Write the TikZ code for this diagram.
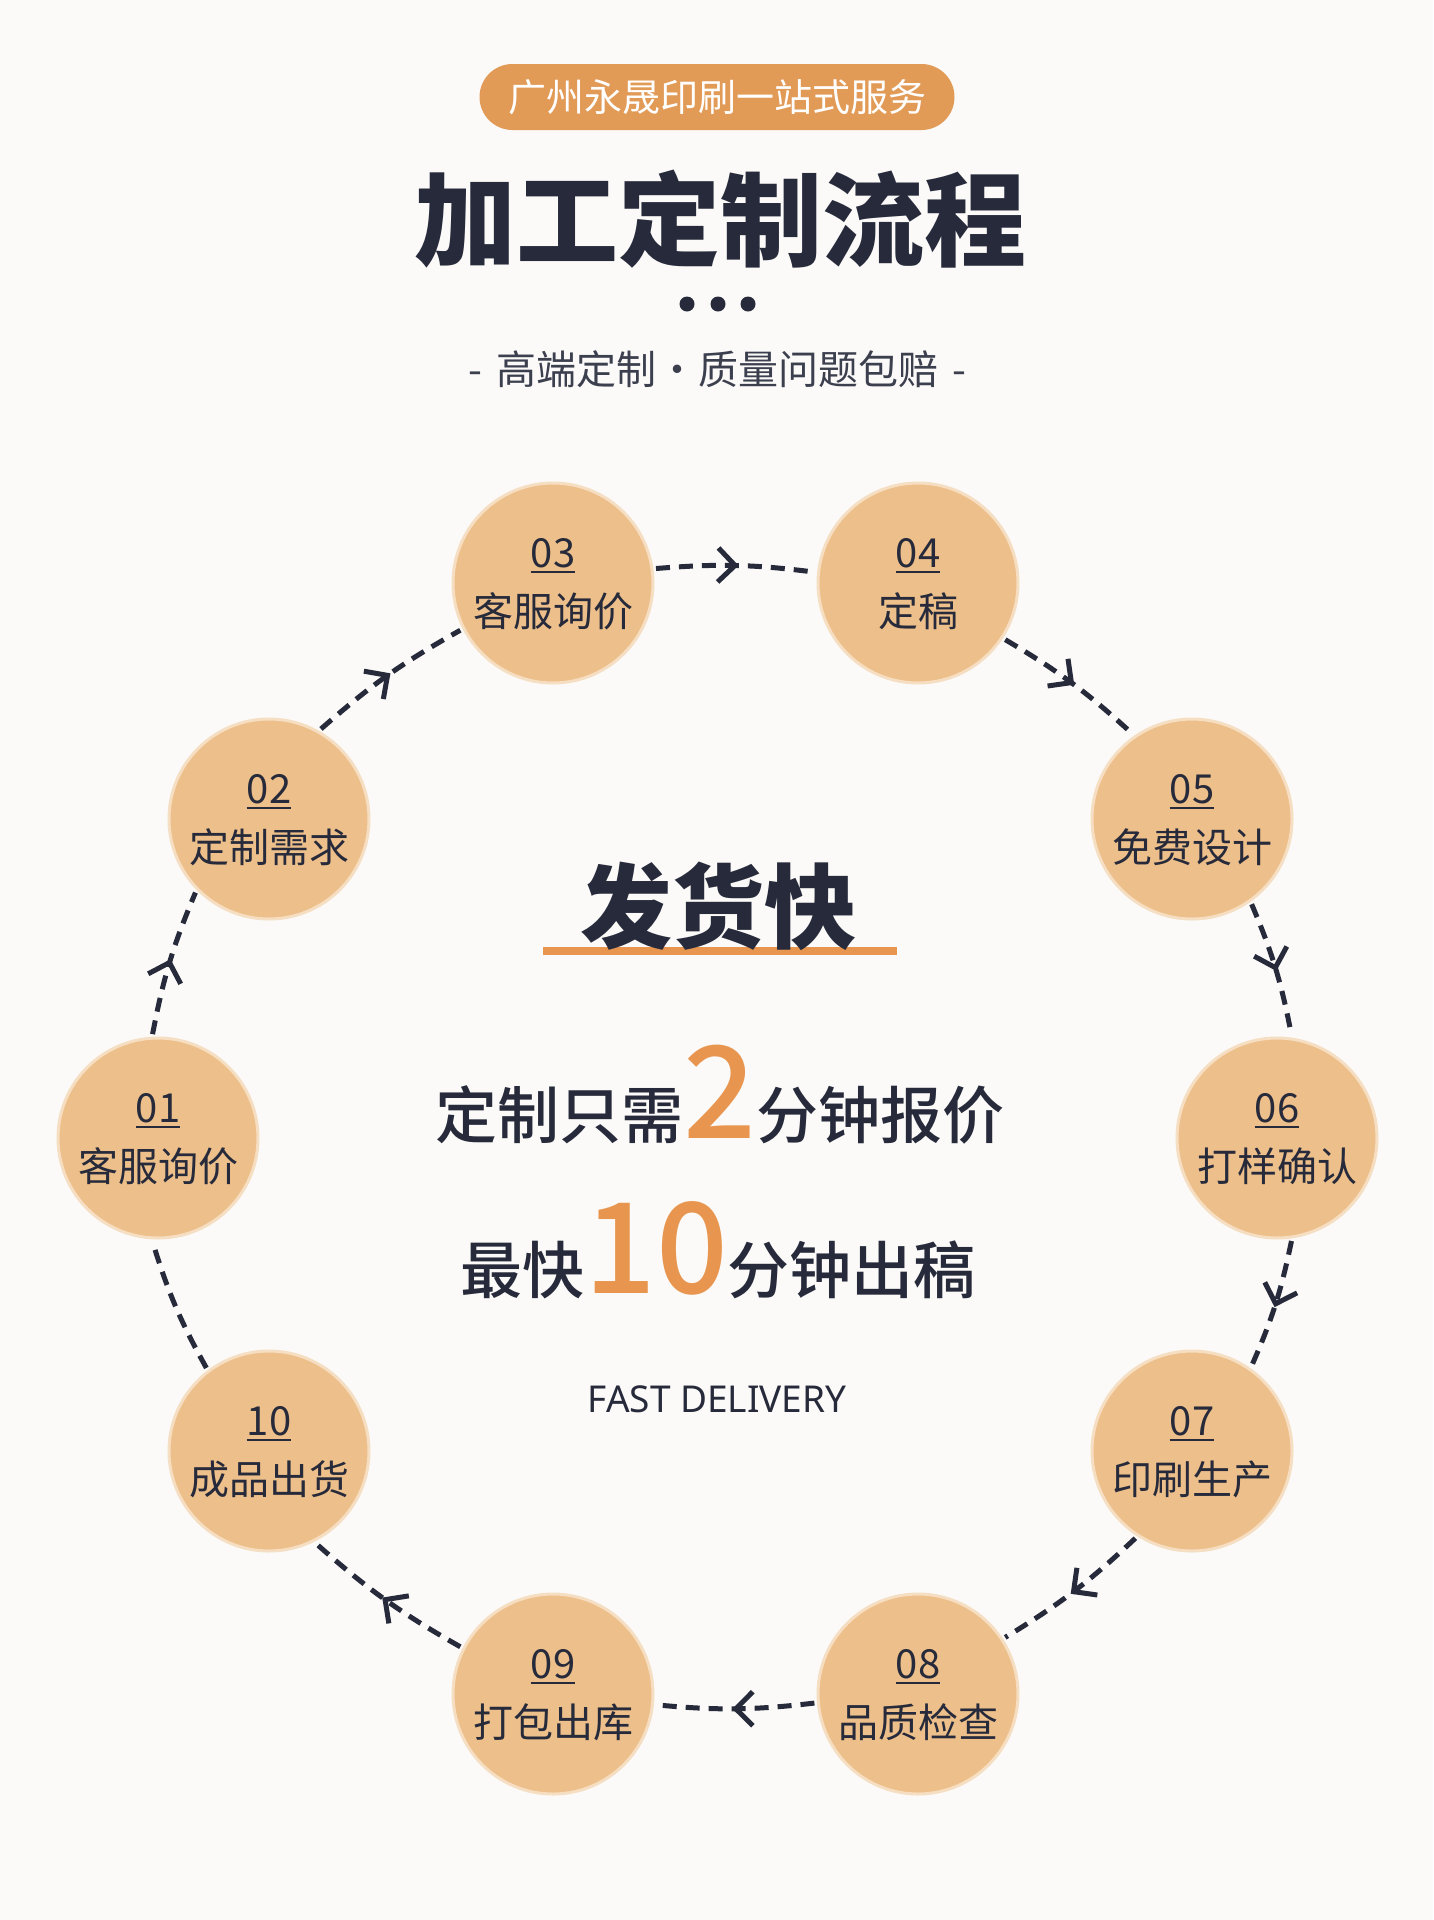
\documentclass[tikz,border=0pt]{standalone}
\usepackage{fontspec}
\setmainfont{Noto Sans CJK SC}
\newfontfamily\medfont{Noto Sans CJK SC Medium}
\newfontfamily\latfont{Noto Sans}
\usetikzlibrary{calc,arrows.meta,decorations.markings}
\definecolor{bgcol}{HTML}{FBFAF8}
\definecolor{ink}{HTML}{262A3A}
\definecolor{circfill}{HTML}{EDBF8A}
\definecolor{circedge}{HTML}{F6DEC2}
\definecolor{accent}{HTML}{E8964F}
\definecolor{badgecol}{HTML}{E29A57}
\tikzset{
  stepcirc/.style={circle, minimum size=200pt, inner sep=0pt, fill=circfill, draw=circedge, line width=3pt, outer sep=4pt},
  numtxt/.style={anchor=base, inner sep=0pt, text=ink, font=\fontsize{40}{40}\selectfont},
  labtxt/.style={anchor=base, inner sep=0pt, text=ink, font=\fontsize{40}{40}\selectfont},
  numline/.style={draw=ink, line width=2.5pt},
  flowplain/.style={draw=ink, line width=5pt, dash pattern=on 14pt off 9pt},
  flow/.style={flowplain, postaction={decorate},
    decoration={markings, mark=at position 0.52 with {\arrow[ink, line width=5pt]{Straight Barb[length=17pt,width=34pt]}}}},
  dotnode/.style={circle, fill=ink, minimum size=15pt, inner sep=0pt},
}
\begin{document}
\begin{tikzpicture}[x=1pt,y=-1pt]
\fill[bgcol] (0,0) rectangle (1433,1920);
\useasboundingbox (0,0) rectangle (1433,1920);

% header
\node[fill=badgecol, rounded corners=33pt, minimum width=475pt, minimum height=66pt, text=white,
  font=\fontsize{38}{38}\selectfont, inner sep=0pt] (badge) at (717,97) {广州永晟印刷一站式服务};
\node[text=ink, font=\bfseries\fontsize{102}{102}\selectfont, inner sep=0pt] (title) at (720,219) {加工定制流程};
\node[dotnode] (d1) at (687,304) {};
\node[dotnode] (d2) at (718,304) {};
\node[dotnode] (d3) at (748,304) {};
\node[text=ink!90, font=\fontsize{40}{40}\selectfont, inner sep=0pt] (sub) at (717,369)
  {-\hspace{14pt}高端定制\hspace{1pt}·\hspace{1pt}质量问题包赔\hspace{14pt}-};

% centre
\node[fill=accent, minimum width=354pt, minimum height=8pt, inner sep=0pt] (bar) at (720,951) {};
\node[text=ink, font=\bfseries\fontsize{92}{92}\selectfont, inner sep=0pt] (fast) at (718,906) {发货快};
\node[anchor=base, text=ink, font=\medfont\fontsize{62}{62}\selectfont, inner sep=0pt] (l2) at (720,1138)
  {定制只需{\color{accent}\fontsize{128}{128}\selectfont 2}分钟报价};
\node[anchor=base, text=ink, font=\medfont\fontsize{62}{62}\selectfont, inner sep=0pt] (l3) at (718,1293)
  {最快{\color{accent}\fontsize{126}{126}\selectfont 10}分钟出稿};
\node[anchor=base, text=ink, font=\latfont\fontsize{37}{37}\selectfont, inner sep=0pt] (en) at (717,1412) {FAST DELIVERY};

% steps
\foreach \i/\t/\px/\py in {01/客服询价/158/1138, 02/定制需求/269/819, 03/客服询价/553/583,
  04/定稿/918/583, 05/免费设计/1192/819, 06/打样确认/1277/1138, 07/印刷生产/1192/1451,
  08/品质检查/918/1694, 09/打包出库/553/1694, 10/成品出货/269/1451} {
  \node[stepcirc] (s\i) at (\px,\py) {};
  \node[numtxt] (n\i) at ($(s\i.center)+(0,-16)$) {\i};
  \draw[numline] ($(n\i.base west)+(0,5)$) -- ($(n\i.base east)+(0,5)$);
  \node[labtxt] (t\i) at ($(s\i.center)+(0,43)$) {\t};
}

% connectors
\foreach \a/\sa/\b/\sb in {01/93/02/225, 02/60/03/207, 03/8/04/174, 04/-33/05/125, 05/-55/06/82,
  06/-82/07/55, 07/-123/08/33, 08/-175/09/-6, 09/153/10/-63}
  \draw[flow] (s\a.\sa) to[bend left=6] (s\b.\sb);
\draw[flowplain] (s10.127) to[bend left=6] (s01.267);
\end{tikzpicture}
\end{document}
